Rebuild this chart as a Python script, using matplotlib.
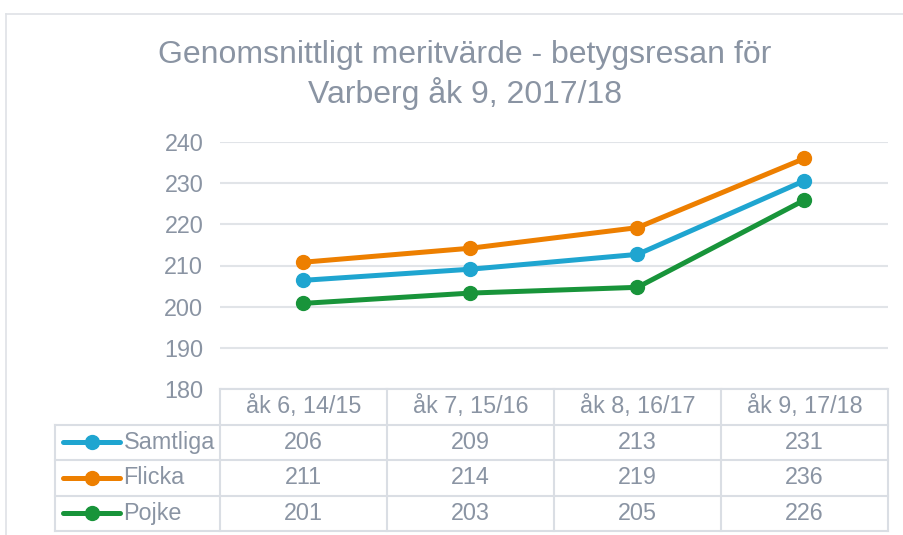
import matplotlib
matplotlib.use("Agg")
import matplotlib.pyplot as plt
from matplotlib.lines import Line2D

plt.rcParams['font.family'] = ['Liberation Sans', 'DejaVu Sans']

categories = ["åk 6, 14/15", "åk 7, 15/16", "åk 8, 16/17", "åk 9, 17/18"]
series_names = ["Samtliga", "Flicka", "Pojke"]
samtliga = [206.4, 209.1, 212.7, 230.6]
flicka = [210.8, 214.2, 219.2, 236.0]
pojke = [200.8, 203.3, 204.7, 225.9]
colors = ["#1fa5d0", "#ed7f00", "#18943a"]
yticks = [180, 190, 200, 210, 220, 230, 240]

grey_txt = "#8a94a3"
grid_c = "#e1e4e8"
W, H = 904, 535
fs = 16.8

fig = plt.figure(figsize=(W / 100, H / 100), dpi=100)

# outer chart border
fig.add_artist(Line2D([6 / W, 6 / W], [0, 1 - 14 / H], color="#dfe2e6", lw=1.2))
fig.add_artist(Line2D([6 / W, 1], [1 - 14 / H, 1 - 14 / H], color="#dfe2e6", lw=1.2))

fig.text(465 / W, 1 - 55 / H, "Genomsnittligt meritvärde - betygsresan för",
         ha="center", va="center", fontsize=23, color=grey_txt)
fig.text(465 / W, 1 - 93 / H, "Varberg åk 9, 2017/18",
         ha="center", va="center", fontsize=23, color=grey_txt)

# plot area
ax = fig.add_axes([220 / W, 1 - 389 / H, (888 - 220) / W, (389 - 142) / H])
x = range(len(categories))
for vals, c in zip([samtliga, flicka, pojke], colors):
    ax.plot(x, vals, color=c, lw=3.6, marker="o", markersize=10, solid_capstyle="round")
ax.set_xlim(-0.5, 3.5)
ax.set_ylim(180, 240)
ax.set_yticks(yticks)
ax.set_xticks([])
for s in ax.spines.values():
    s.set_visible(False)
ax.tick_params(axis="y", length=0, pad=12, labelsize=fs, labelcolor=grey_txt)
ax.grid(axis="y", color=grid_c, lw=1.5)
ax.set_axisbelow(True)

# data table
leg_w = 165 / 167
tab = fig.add_axes([55 / W, 1 - 531 / H, (888 - 55) / W, (531 - 389) / H])
left = -0.5 - leg_w
tab.set_xlim(left, 3.5)
tab.set_ylim(4, 0)
tab.axis("off")
lc = "#dadee4"
tab.plot([-0.5, 3.5], [0, 0], color=lc, lw=1.5, clip_on=False)
for r in range(1, 5):
    tab.plot([left, 3.5], [r, r], color=lc, lw=1.5, clip_on=False)
tab.plot([left, left], [1, 4], color=lc, lw=1.5, clip_on=False)
for cx in [-0.5, 0.5, 1.5, 2.5, 3.5]:
    tab.plot([cx, cx], [0, 4], color=lc, lw=1.5, clip_on=False)

for i, cat in enumerate(categories):
    tab.text(i, 0.5, cat, ha="center", va="center", fontsize=fs, color=grey_txt)

for r, (name, vals, c) in enumerate(zip(series_names, [samtliga, flicka, pojke], colors)):
    yy = r + 1.5
    tab.plot([left + 0.05, left + 0.39], [yy, yy], color=c, lw=3.6, solid_capstyle="round")
    tab.plot([left + 0.22], [yy], color=c, marker="o", markersize=10)
    tab.text(left + 0.41, yy, name, ha="left", va="center", fontsize=fs, color=grey_txt)
    for i, v in enumerate(vals):
        tab.text(i, yy, f"{v:.0f}", ha="center", va="center", fontsize=fs, color=grey_txt)

fig.savefig("out.png", dpi=100, facecolor="white")
